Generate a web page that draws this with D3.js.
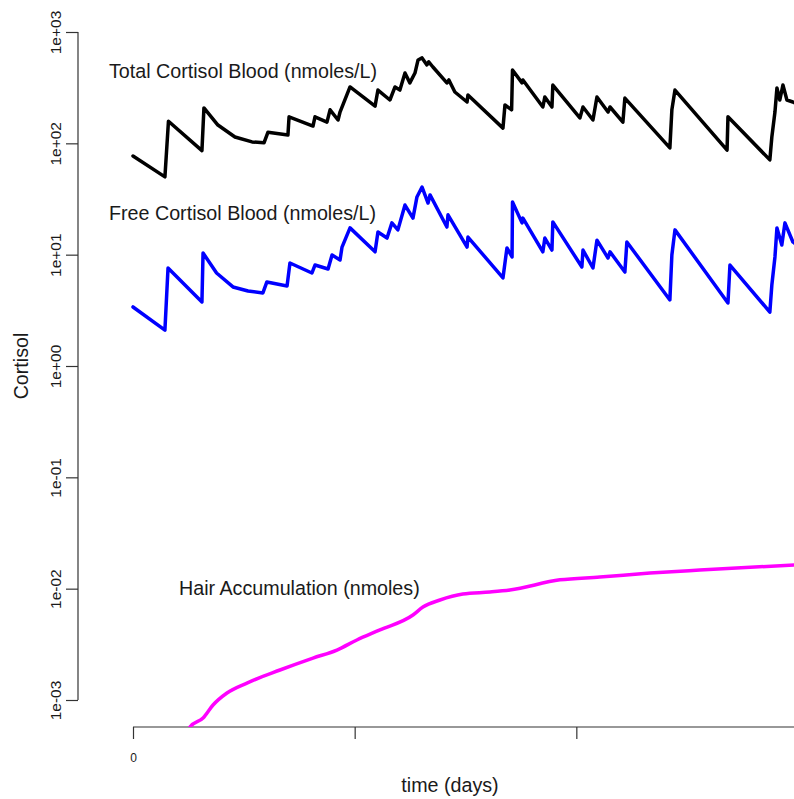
<!DOCTYPE html>
<meta charset="utf-8">
<style>
 body {
     margin: 0;
     background: #fff;
     font-family: 'Liberation Sans', Arial, Helvetica, sans-serif;
 }
 .axis path,
 .axis line {
     fill: none;
     stroke: #333;
     stroke-width: 1.2px;
 }
 .series {
     fill: none;
     stroke-width: 3.5px;
     stroke-linejoin: round;
     stroke-linecap: round;
 }
 .note {
     fill: #1a1a1a;
     font-size: 19.7px;
 }
</style>
<body>
<script src="https://d3js.org/d3.v7.min.js"></script>
<script>

 // time (days), value (nmoles/L)
 var totalCortisol = [
     [0, 77], [14.4, 50], [16, 158], [31.1, 86], [32, 208], [38.3, 146],
     [46, 114], [53.7, 103], [59.1, 101], [60.9, 126], [69.9, 119], [70.4, 173],
     [81.2, 143], [82.1, 173], [87.5, 155], [88.9, 200], [92.5, 162], [93.4, 191],
     [97.9, 321], [109.2, 216], [110.5, 301], [115.9, 245], [118.2, 321], [120.4, 301],
     [122.7, 428], [124.9, 349], [127.2, 428], [128.6, 561], [130.4, 585], [132.6, 506],
     [133.4, 540], [135.3, 485], [141.6, 349], [142.5, 371], [145.2, 289], [150.7, 235],
     [151.1, 272], [166.9, 137], [167.8, 221], [170.8, 200], [171.2, 456], [175.5, 349],
     [175.9, 371], [184.9, 212], [185.8, 261], [189, 212], [189.4, 334], [201.6, 169],
     [203, 212], [207.5, 162], [209.3, 261], [214.3, 191], [215.2, 212], [221, 155],
     [221.9, 255], [242.2, 91], [243.1, 200], [244.5, 301], [268, 87], [268.4, 173],
     [287.3, 71], [288.2, 114], [289.6, 191], [290.5, 314], [291.8, 245], [293.2, 334],
     [295, 245], [297.7, 235], [300, 222]
 ];

 var freeCortisol = [
     [0, 3.39], [14.4, 2.10], [15.8, 7.59], [31.1, 3.76], [31.6, 10.35], [37.7, 6.84],
     [45.1, 5.13], [51.9, 4.72], [58.6, 4.53], [60.4, 5.69], [69.5, 5.24], [70.8, 8.42],
     [80.7, 6.84], [82.1, 8.07], [88, 7.43], [89.8, 9.93], [93.4, 8.96], [94.3, 11.7],
     [97.9, 17.4], [109.2, 10.6], [110.5, 16.0], [114.6, 14.1], [116.8, 19.3], [119.5, 16.7],
     [122.7, 27.9], [126.3, 21.3], [128.1, 33.0], [130.4, 40.5], [133.1, 29.1], [134, 34.4],
     [141.6, 17.7], [142.1, 22.8], [150.7, 11.7], [151.1, 14.4], [166.9, 6.18], [168.7, 11.5],
     [171, 9.53], [171.2, 29.7], [175.5, 19.3], [175.9, 21.3], [184.9, 10.6], [185.8, 14.1],
     [189, 11.0], [189.4, 19.7], [202.5, 7.75], [203, 11.0], [207.5, 7.59], [209.3, 13.5],
     [214.3, 9.33], [215.2, 10.6], [221.9, 6.98], [222.8, 13.0], [242.2, 3.92], [243.1, 9.93],
     [244.5, 16.7], [268.4, 3.68], [269.3, 8.07], [287.3, 3.05], [288.2, 5.34], [289.6, 9.53],
     [290.5, 17.4], [292.7, 12.2], [294.1, 19.3], [297.7, 13.0], [300, 12.0]
 ];

 // time (days), value (nmoles)
 var hairAccumulation = [
     [22, 0.00035], [25.7, 0.000572], [31.6, 0.000689], [36.1, 0.000902], [42.4, 0.001156],
     [51.4, 0.00142], [66.3, 0.00186], [81.2, 0.00238], [92, 0.00281], [101, 0.00346],
     [111.4, 0.00426], [126.3, 0.0058], [130.8, 0.00684], [138.5, 0.00791], [148.8, 0.00895],
     [161, 0.00933], [170, 0.00973], [192.6, 0.0120], [210.6, 0.0127], [233.2, 0.0138],
     [255.7, 0.0147], [300, 0.0164]
 ];

 var yTicks = [1e-3, 1e-2, 1e-1, 1e0, 1e1, 1e2, 1e3];
 var yTickLabels = ["1e-03", "1e-02", "1e-01", "1e+00", "1e+01", "1e+02", "1e+03"];
 var xTicks = [0, 100, 200, 300];
 var xTickLabels = ["0", "", "", ""];

 var width = 794, height = 799;
 var plot = {left: 78, top: 0, right: 830, bottom: 727};

 var xScale = d3.scaleLinear()
                .domain([0, 300])
                .range([133, 798]);

 var yScale = d3.scaleLog()
                .domain([1e-3, 1e3])
                .range([700, 32]);

 var svg = d3.select("body").append("svg")
             .attr("width", width)
             .attr("height", height);

 svg.append("clipPath")
    .attr("id", "clip")
    .append("rect")
    .attr("x", plot.left)
    .attr("y", plot.top)
    .attr("width", plot.right - plot.left)
    .attr("height", plot.bottom - plot.top);

 // y axis
 var gY = svg.append("g")
             .attr("class", "axis")
             .attr("transform", "translate(" + plot.left + ",0)")
             .call(d3.axisLeft(yScale)
                     .tickValues(yTicks)
                     .tickSize(12)
                     .tickSizeOuter(0)
                     .tickFormat(function(d, i) { return yTickLabels[i]; }));
 gY.select(".domain").attr("d", "M0," + yScale(1e-3) + "V" + yScale(1e3));
 gY.selectAll("text")
   .attr("font-family", "'Liberation Sans', Arial, sans-serif")
   .attr("font-size", "15.5px")
   .attr("fill", "#1a1a1a")
   .attr("text-anchor", "middle")
   .attr("x", null)
   .attr("dy", null)
   .attr("transform", "translate(-21,0) rotate(-90)")
   .attr("y", 0)
   .attr("dominant-baseline", "middle");

 // x axis
 var gX = svg.append("g")
             .attr("class", "axis")
             .attr("transform", "translate(0," + plot.bottom + ")")
             .call(d3.axisBottom(xScale)
                     .tickValues(xTicks)
                     .tickSize(12)
                     .tickSizeOuter(0)
                     .tickFormat(function(d, i) { return xTickLabels[i]; }));
 gX.select(".domain").attr("d", "M" + xScale(0) + ",0H" + xScale(300));
 gX.selectAll("text")
   .attr("font-family", "'Liberation Sans', Arial, sans-serif")
   .attr("font-size", "12px")
   .attr("fill", "#1a1a1a")
   .attr("y", 31)
   .attr("dy", "0.35em");

 // axis titles
 svg.append("text")
    .attr("class", "note")
    .attr("transform", "translate(28," + yScale(1) + ") rotate(-90)")
    .attr("text-anchor", "middle")
    .text("Cortisol");

 svg.append("text")
    .attr("class", "note")
    .attr("x", 450)
    .attr("y", 792)
    .attr("text-anchor", "middle")
    .text("time (days)");

 var line = d3.line()
              .x(function(d) { return xScale(d[0]); })
              .y(function(d) { return yScale(d[1]); });

 var chart = svg.append("g")
                .attr("clip-path", "url(#clip)");

 chart.append("path")
      .datum(totalCortisol)
      .attr("class", "series")
      .attr("stroke", "#000")
      .attr("d", line);

 chart.append("path")
      .datum(freeCortisol)
      .attr("class", "series")
      .attr("stroke", "#0000ff")
      .attr("d", line);

 // hair curve is smooth in the original
 chart.append("path")
      .datum(hairAccumulation)
      .attr("class", "series")
      .attr("stroke", "#ff00ff")
      .attr("d", line.curve(d3.curveMonotoneX));

 // series labels
 svg.append("text")
    .attr("class", "note")
    .attr("x", 109)
    .attr("y", 78)
    .text("Total Cortisol Blood (nmoles/L)");

 svg.append("text")
    .attr("class", "note")
    .attr("x", 109)
    .attr("y", 220)
    .text("Free Cortisol Blood (nmoles/L)");

 svg.append("text")
    .attr("class", "note")
    .attr("x", 179)
    .attr("y", 595)
    .text("Hair Accumulation (nmoles)");

</script>
</body>
